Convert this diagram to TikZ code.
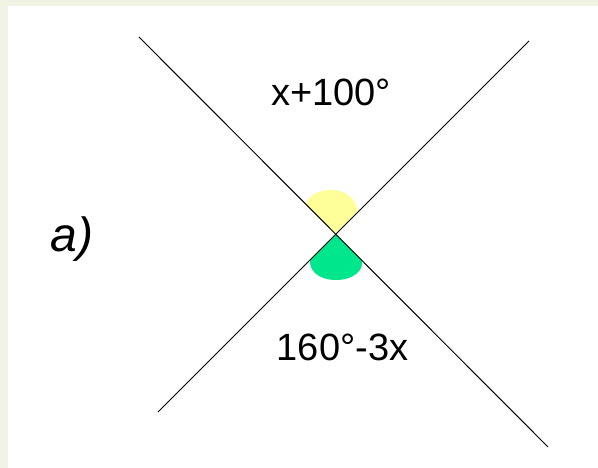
\documentclass[tikz,border=0pt]{standalone}
\usepackage{fontspec}
\setmainfont{Liberation Sans}
\definecolor{framebg}{HTML}{F0F2E3}
\definecolor{topfill}{HTML}{FFFF99}
\definecolor{botfill}{HTML}{00E68C}
\begin{document}
\begin{tikzpicture}[x=1pt,y=1pt,
  lbl/.style={inner sep=0pt,anchor=base,font=\fontsize{38}{40}\selectfont},
  ray/.style={line width=1pt,black}]
\useasboundingbox (0,0) rectangle (598,468);
\fill[framebg] (0,0) rectangle (598,468);
\fill[white] (8,0) rectangle (598,462);
% centre and line ends
\coordinate (C) at (336,234);
\coordinate (A1) at (139,431);
\coordinate (A2) at (548,21);
\coordinate (B1) at (529,427);
\coordinate (B2) at (158,56);
% angle marks
\fill[topfill] (C) -- (306,264) .. controls (308,272) and (318,278) .. (331,278)
  .. controls (345,278) and (356,270) .. (358,256) -- cycle;
\fill[botfill] (C) -- (310,208) .. controls (309,198) and (318,188) .. (336,188)
  .. controls (354,188) and (364,198) .. (362,208) -- cycle;
% lines
\draw[ray] (A1) -- (A2);
\draw[ray] (B1) -- (B2);
% labels
\node[lbl] (top) at (331,362) {x+100°};
\node[lbl] (bot) at (342.5,107) {160°-3x};
\node[inner sep=0pt,anchor=base,font=\fontsize{48}{50}\selectfont\itshape] (a) at (72,216) {a)};
\end{tikzpicture}
\end{document}
